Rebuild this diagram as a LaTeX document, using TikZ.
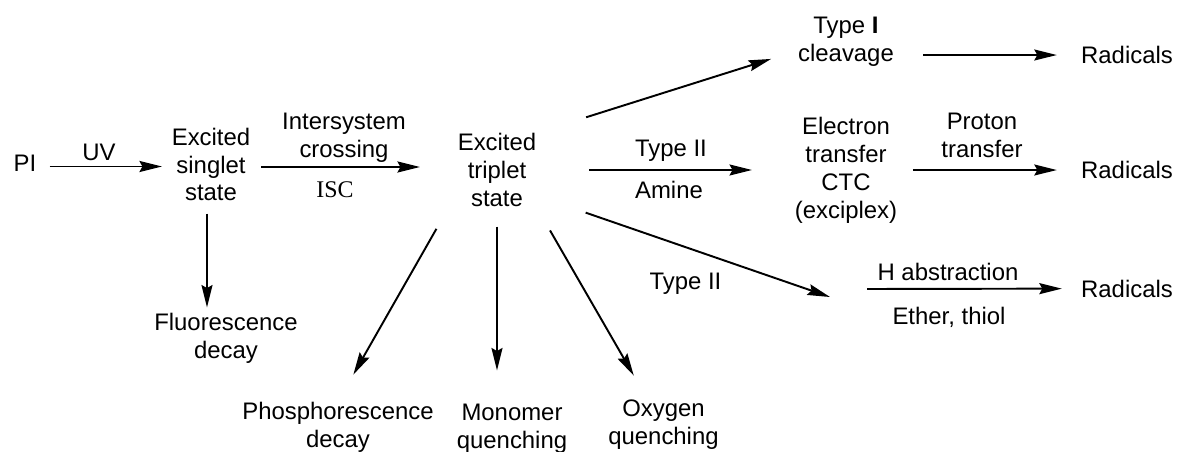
\documentclass[tikz,border=0pt]{standalone}
\usepackage{fontspec}
\setmainfont{Liberation Sans}
\newfontfamily\iscfont{Liberation Serif}
\usetikzlibrary{arrows.meta}

\tikzset{
    txt/.style={align=center, inner sep=0pt, font=\fontsize{13.6}{15.9}\selectfont},
    isctxt/.style={inner sep=0pt, font=\iscfont\fontsize{13.6}{15.9}\selectfont},
    arr/.style={line width=1.1pt, -{Stealth[length=0.45cm, width=0.22cm, inset=0.06cm]}}
}

\begin{document}
\begin{tikzpicture}
        \useasboundingbox (0,0) rectangle (23.54,9.02);

        % States
        \node[txt] (pi) at (0.50,5.75) {PI};
        \node[txt] (singlet) at (4.22,5.73) {Excited\\singlet\\state};
        \node[txt] (triplet) at (9.94,5.62) {Excited\\triplet\\state};
        \node[txt] (fluor) at (4.52,2.26) {Fluorescence\\decay};
        \node[txt] (phos) at (6.76,0.48) {Phosphorescence\\decay};
        \node[txt] (monomer) at (10.24,0.45) {Monomer\\quenching};
        \node[txt] (oxygen) at (13.27,0.52) {Oxygen\\quenching};
        \node[txt] (cleav) at (16.92,8.18) {Type \textbf{I}\\cleavage};
        \node[txt] (etrans) at (16.92,5.62) {Electron\\transfer\\CTC\\(exciplex)};
        \node[txt] (rad1) at (22.54,7.92) {Radicals};
        \node[txt] (rad2) at (22.54,5.62) {Radicals};
        \node[txt] (rad3) at (22.54,3.25) {Radicals};
        \coordinate (hend) at (16.60,3.08);
        \coordinate (hstart) at (17.34,3.24);

        % Labels
        \node[txt] (uv) at (1.98,5.98) {UV};
        \node[txt] (xing) at (6.88,6.26) {Intersystem\\crossing};
        \node[isctxt] (isc) at (6.70,5.23) {ISC};
        \node[txt] (typeiia) at (13.42,6.00) {Type II};
        \node[txt] (amine) at (13.38,5.23) {Amine};
        \node[txt] (proton) at (19.64,6.31) {Proton\\transfer};
        \node[txt] (typeiib) at (13.71,3.34) {Type II};
        \node[txt] (habs) at (18.96,3.59) {H abstraction};
        \node[txt] (ether) at (18.98,2.67) {Ether, thiol};

        % Arrows
        \draw[arr, shorten <=0.26cm, shorten >=0.19cm] ([yshift=-0.06cm]pi.east) -- ([yshift=-0.06cm]pi.east -| singlet.west);
        \draw[arr, shorten <=0.21cm, shorten >=0.75cm] ([yshift=-0.05cm]singlet.east) -- ([yshift=-0.05cm]singlet.east -| triplet.west);
        \draw[arr, shorten <=0.24cm, shorten >=0.1cm] ([xshift=-0.08cm]singlet.south) -- ([xshift=-0.08cm]singlet.south |- fluor.north);
        \draw[arr, shorten <=1.04cm, shorten >=0.56cm] (triplet.north east) -- (cleav.190);
        \draw[arr, shorten <=1.05cm, shorten >=0.85cm] (triplet) -- (etrans);
        \draw[arr, shorten <=1.04cm] (triplet.-33) -- (hend);
        \draw[arr, shorten >=0.38cm] (hstart) -- (rad3);
        \draw[arr, shorten <=0.58cm, shorten >=0.48cm] (cleav.east |- rad1) -- (rad1);
        \draw[arr, shorten <=0.31cm, shorten >=0.48cm] (etrans) -- (rad2);
        \draw[arr, shorten <=0.85cm, shorten >=0.62cm] (triplet.209) -- (phos.north);
        \draw[arr, shorten <=0.39cm, shorten >=0.66cm] (triplet.south) -- (triplet.south |- monomer.north);
        \draw[arr, shorten <=0.54cm, shorten >=0.56cm] (triplet.south east) -- (oxygen.122);

    \end{tikzpicture}
\end{document}
